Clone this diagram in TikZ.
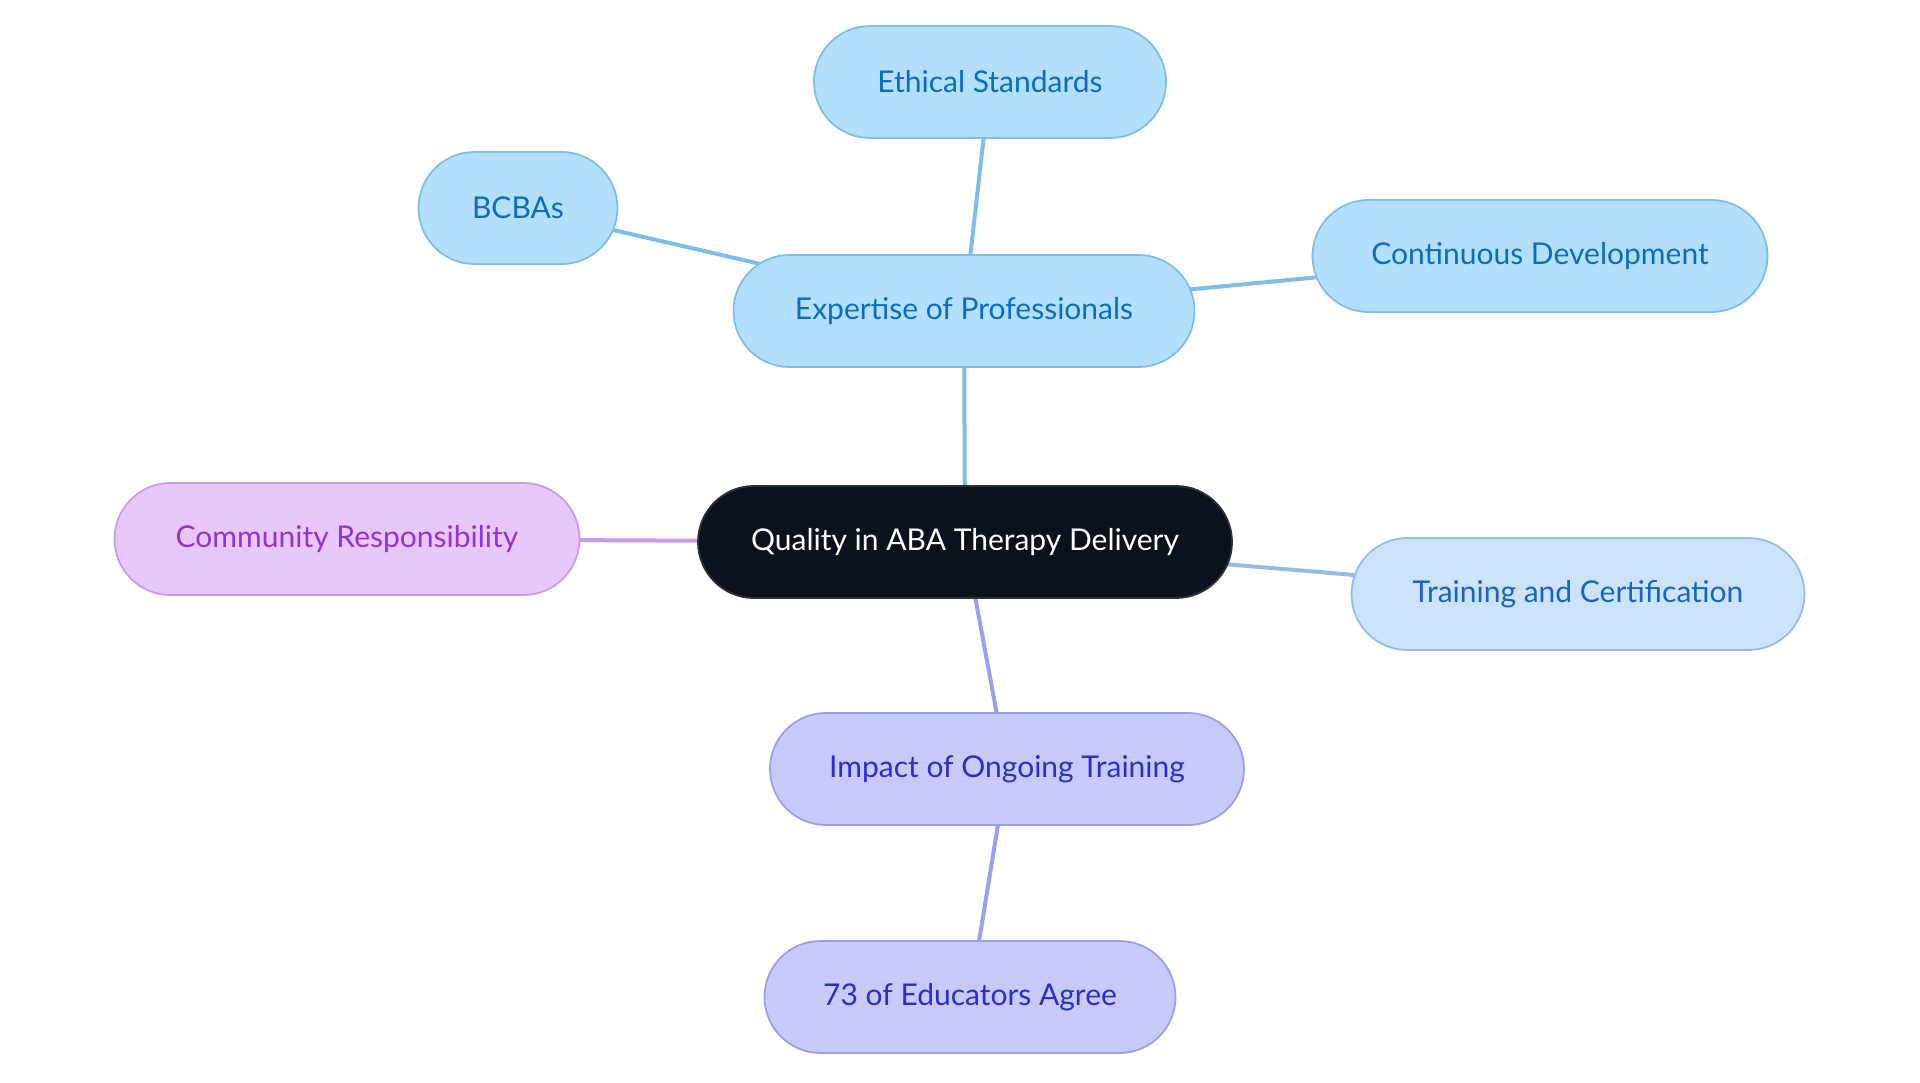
\documentclass[tikz,border=0pt]{standalone}
\usepackage{fontspec}
\setmainfont{Lato}
\usetikzlibrary{backgrounds}

\definecolor{rootfill}{HTML}{0C121C}
\definecolor{rootline}{HTML}{2B3038}
\definecolor{bluefill}{HTML}{B3DFFD}
\definecolor{blueline}{HTML}{7DBEEB}
\definecolor{bluetext}{HTML}{0A6EC0}
\definecolor{skyfill}{HTML}{CCE3FB}
\definecolor{skyline}{HTML}{90BDEE}
\definecolor{skytext}{HTML}{1565C8}
\definecolor{lilacfill}{HTML}{E8C8FC}
\definecolor{lilacline}{HTML}{C99BEE}
\definecolor{lilactext}{HTML}{9333D6}
\definecolor{indigofill}{HTML}{C8CAFC}
\definecolor{indigoline}{HTML}{9C9EF0}
\definecolor{indigotext}{HTML}{2A2ECC}

\begin{document}
\begin{tikzpicture}[x=1pt, y=-1pt,
  every node/.style={draw, rectangle, rounded corners=56pt, align=center, font=\fontsize{30}{35}\selectfont, minimum height=112pt, inner sep=0pt, line width=1.8pt},
  root/.style={fill=rootfill, draw=rootline, text=white},
  topic/.style={fill=bluefill, draw=blueline, text=bluetext},
  cert/.style={fill=skyfill, draw=skyline, text=skytext},
  community/.style={fill=lilacfill, draw=lilacline, text=lilactext},
  impact/.style={fill=indigofill, draw=indigoline, text=indigotext},
  link/.style={line width=4pt}]
\useasboundingbox (0,0) rectangle (1920,1083);

\node (quality) [root, minimum width=534pt] at (965,542) {Quality in ABA Therapy Delivery};
\node (expertise) [topic, minimum width=461pt] at (964,311) {Expertise of Professionals};
\node (ethical) [topic, minimum width=352pt] at (990,82) {Ethical Standards};
\node (bcbas) [topic, minimum width=199pt] at (518,208) {BCBAs};
\node (continuous) [topic, minimum width=455pt] at (1540,256) {Continuous Development};
\node (training) [cert, minimum width=453pt] at (1578,594) {Training and Certification};
\node (community) [community, minimum width=465pt] at (347,539) {Community Responsibility};
\node (ongoing) [impact, minimum width=474pt] at (1007,769) {Impact of Ongoing Training};
\node (educators) [impact, minimum width=411pt] at (970,997) {73 of Educators Agree};

\begin{scope}[on background layer]
\draw[link, blueline] (quality.center) -- (expertise.center);
\draw[link, blueline] (expertise.center) -- (ethical.center);
\draw[link, blueline] (expertise.center) -- (bcbas.center);
\draw[link, blueline] (expertise.center) -- (continuous.center);
\draw[link, skyline] (quality.center) -- (training.center);
\draw[link, lilacline] (quality.center) -- (community.center);
\draw[link, indigoline] (quality.center) -- (ongoing.center);
\draw[link, indigoline] (ongoing.center) -- (educators.center);
\end{scope}
\end{tikzpicture}
\end{document}
